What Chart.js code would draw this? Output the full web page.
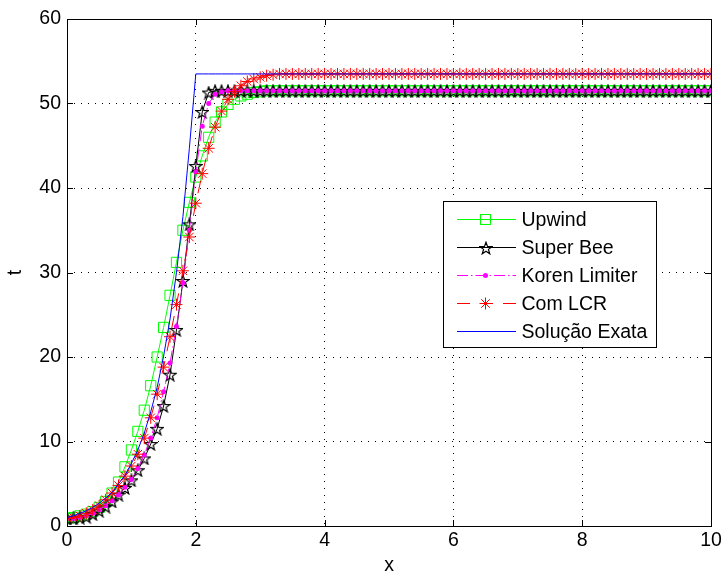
<!DOCTYPE html>
<html>
<head>
<meta charset="utf-8">
<script src="https://cdn.jsdelivr.net/npm/chart.js@4.4.1/dist/chart.umd.min.js"></script>
<style>
  html, body { margin: 0; padding: 0; background: #fff; }
  canvas { display: block; }
</style>
</head>
<body>
<canvas id="myChart" width="725" height="577"></canvas>
<script>
// x positions of the samples (step 0.1)
var xs = [
  0, 0.1, 0.2, 0.3, 0.4, 0.5, 0.6, 0.7, 0.8, 0.9,
  1, 1.1, 1.2, 1.3, 1.4, 1.5, 1.6, 1.7, 1.8, 1.9,
  2, 2.1, 2.2, 2.3, 2.4, 2.5, 2.6, 2.7, 2.8, 2.9,
  3, 3.1, 3.2, 3.3, 3.4, 3.5, 3.6, 3.7, 3.8, 3.9,
  4, 4.1, 4.2, 4.3, 4.4, 4.5, 4.6, 4.7, 4.8, 4.9,
  5, 5.1, 5.2, 5.3, 5.4, 5.5, 5.6, 5.7, 5.8, 5.9,
  6, 6.1, 6.2, 6.3, 6.4, 6.5, 6.6, 6.7, 6.8, 6.9,
  7, 7.1, 7.2, 7.3, 7.4, 7.5, 7.6, 7.7, 7.8, 7.9,
  8, 8.1, 8.2, 8.3, 8.4, 8.5, 8.6, 8.7, 8.8, 8.9,
  9, 9.1, 9.2, 9.3, 9.4, 9.5, 9.6, 9.7, 9.8, 9.9,
  10
];

var upwind = [
  0.9, 1.0, 1.2, 1.4, 1.7, 2.2, 2.9, 3.9, 5.2, 7.0,
  9.0, 11.2, 13.7, 16.6, 20.0, 23.5, 27.3, 31.2, 35.0, 38.3,
  41.3, 43.8, 46.0, 47.8, 49.0, 49.9, 50.5, 50.9, 51.1, 51.3,
  51.4, 51.5, 51.5, 51.5, 51.5, 51.5, 51.5, 51.5, 51.5, 51.5,
  51.5, 51.5, 51.5, 51.5, 51.5, 51.5, 51.5, 51.5, 51.5, 51.5,
  51.5, 51.5, 51.5, 51.5, 51.5, 51.5, 51.5, 51.5, 51.5, 51.5,
  51.5, 51.5, 51.5, 51.5, 51.5, 51.5, 51.5, 51.5, 51.5, 51.5,
  51.5, 51.5, 51.5, 51.5, 51.5, 51.5, 51.5, 51.5, 51.5, 51.5,
  51.5, 51.5, 51.5, 51.5, 51.5, 51.5, 51.5, 51.5, 51.5, 51.5,
  51.5, 51.5, 51.5, 51.5, 51.5, 51.5, 51.5, 51.5, 51.5, 51.5,
  51.5
];

var superBee = [
  0.9, 0.9, 1.0, 1.1, 1.4, 1.8, 2.3, 2.9, 3.7, 4.5,
  5.4, 6.6, 8.0, 9.7, 11.5, 14.2, 17.9, 23.2, 29.0, 35.7,
  42.6, 49.0, 51.3, 51.5, 51.5, 51.5, 51.5, 51.5, 51.5, 51.5,
  51.5, 51.5, 51.5, 51.5, 51.5, 51.5, 51.5, 51.5, 51.5, 51.5,
  51.5, 51.5, 51.5, 51.5, 51.5, 51.5, 51.5, 51.5, 51.5, 51.5,
  51.5, 51.5, 51.5, 51.5, 51.5, 51.5, 51.5, 51.5, 51.5, 51.5,
  51.5, 51.5, 51.5, 51.5, 51.5, 51.5, 51.5, 51.5, 51.5, 51.5,
  51.5, 51.5, 51.5, 51.5, 51.5, 51.5, 51.5, 51.5, 51.5, 51.5,
  51.5, 51.5, 51.5, 51.5, 51.5, 51.5, 51.5, 51.5, 51.5, 51.5,
  51.5, 51.5, 51.5, 51.5, 51.5, 51.5, 51.5, 51.5, 51.5, 51.5,
  51.5
];

var koren = [
  0.9, 0.9, 1.0, 1.2, 1.5, 1.9, 2.4, 3.0, 3.7, 4.6,
  5.5, 6.8, 8.4, 10.4, 12.8, 15.9, 19.3, 23.6, 28.8, 35.0,
  41.9, 47.3, 50.0, 51.1, 51.4, 51.5, 51.5, 51.5, 51.5, 51.5,
  51.5, 51.5, 51.5, 51.5, 51.5, 51.5, 51.5, 51.5, 51.5, 51.5,
  51.5, 51.5, 51.5, 51.5, 51.5, 51.5, 51.5, 51.5, 51.5, 51.5,
  51.5, 51.5, 51.5, 51.5, 51.5, 51.5, 51.5, 51.5, 51.5, 51.5,
  51.5, 51.5, 51.5, 51.5, 51.5, 51.5, 51.5, 51.5, 51.5, 51.5,
  51.5, 51.5, 51.5, 51.5, 51.5, 51.5, 51.5, 51.5, 51.5, 51.5,
  51.5, 51.5, 51.5, 51.5, 51.5, 51.5, 51.5, 51.5, 51.5, 51.5,
  51.5, 51.5, 51.5, 51.5, 51.5, 51.5, 51.5, 51.5, 51.5, 51.5,
  51.5
];

var comLCR = [
  0.9, 1.0, 1.2, 1.5, 1.9, 2.4, 3.1, 3.9, 4.8, 5.9,
  7.1, 8.5, 10.4, 12.8, 15.6, 18.8, 22.4, 26.2, 30.2, 34.2,
  38.2, 41.7, 44.7, 47.2, 49.1, 50.5, 51.4, 52.1, 52.6, 52.9,
  53.1, 53.3, 53.4, 53.5, 53.5, 53.5, 53.5, 53.5, 53.5, 53.5,
  53.5, 53.5, 53.5, 53.5, 53.5, 53.5, 53.5, 53.5, 53.5, 53.5,
  53.5, 53.5, 53.5, 53.5, 53.5, 53.5, 53.5, 53.5, 53.5, 53.5,
  53.5, 53.5, 53.5, 53.5, 53.5, 53.5, 53.5, 53.5, 53.5, 53.5,
  53.5, 53.5, 53.5, 53.5, 53.5, 53.5, 53.5, 53.5, 53.5, 53.5,
  53.5, 53.5, 53.5, 53.5, 53.5, 53.5, 53.5, 53.5, 53.5, 53.5,
  53.5, 53.5, 53.5, 53.5, 53.5, 53.5, 53.5, 53.5, 53.5, 53.5,
  53.5
];

var exata = [
  1.0, 1.2, 1.5, 1.8, 2.2, 2.7, 3.3, 4.0, 5.0, 6.0,
  7.4, 9.0, 11.0, 13.5, 16.4, 20.1, 24.5, 30.0, 36.6, 44.7,
  53.5, 53.5, 53.5, 53.5, 53.5, 53.5, 53.5, 53.5, 53.5, 53.5,
  53.5, 53.5, 53.5, 53.5, 53.5, 53.5, 53.5, 53.5, 53.5, 53.5,
  53.5, 53.5, 53.5, 53.5, 53.5, 53.5, 53.5, 53.5, 53.5, 53.5,
  53.5, 53.5, 53.5, 53.5, 53.5, 53.5, 53.5, 53.5, 53.5, 53.5,
  53.5, 53.5, 53.5, 53.5, 53.5, 53.5, 53.5, 53.5, 53.5, 53.5,
  53.5, 53.5, 53.5, 53.5, 53.5, 53.5, 53.5, 53.5, 53.5, 53.5,
  53.5, 53.5, 53.5, 53.5, 53.5, 53.5, 53.5, 53.5, 53.5, 53.5,
  53.5, 53.5, 53.5, 53.5, 53.5, 53.5, 53.5, 53.5, 53.5, 53.5,
  53.5
];

var seriesNames = ['Upwind', 'Super Bee', 'Koren Limiter', 'Com LCR', 'Solução Exata'];
var seriesColors = ['#00ff00', '#000000', '#ff00ff', '#ff0000', '#0000ff'];
var seriesDash = [[], [], [11, 3, 1.5, 3], [13, 10], []];
var xTicks = [0, 2, 4, 6, 8, 10];
var yTicks = [0, 10, 20, 30, 40, 50, 60];

var FONT = 'Liberation Sans, Arial, Helvetica, sans-serif';
var FSIZE = 19.5;

function toPoints(ys) {
    return ys.map(function (y, i) { return { x: xs[i], y: y }; });
}

// hollow five pointed star marker
function makePentagram(size, color) {
    var c = document.createElement('canvas');
    c.width = size;
    c.height = size;
    var g = c.getContext('2d');
    var cx = size / 2, cy = size / 2 + 0.6;
    var R = size / 2 - 0.6, r = R * 0.4;
    g.beginPath();
    for (var i = 0; i < 10; i++) {
        var a = -Math.PI / 2 + i * Math.PI / 5;
        var rad = (i % 2 === 0) ? R : r;
        g.lineTo(cx + rad * Math.cos(a), cy + rad * Math.sin(a));
    }
    g.closePath();
    g.strokeStyle = color;
    g.lineWidth = 1.2;
    g.stroke();
    return c;
}

var starImg = makePentagram(14, '#000');

var datasets = [
    {
        label: seriesNames[0], data: toPoints(upwind),
        borderColor: seriesColors[0], borderWidth: 1,
        pointStyle: 'rect', pointRadius: 7.2,
        pointBorderColor: seriesColors[0], pointBackgroundColor: 'rgba(0,0,0,0)', pointBorderWidth: 1,
        order: 5
    },
    {
        label: seriesNames[1], data: toPoints(superBee),
        borderColor: seriesColors[1], borderWidth: 1,
        pointStyle: starImg, pointRadius: 7,
        order: 4
    },
    {
        label: seriesNames[2], data: toPoints(koren),
        borderColor: seriesColors[2], borderWidth: 1, borderDash: seriesDash[2],
        pointStyle: 'circle', pointRadius: 2.5,
        pointBorderColor: seriesColors[2], pointBackgroundColor: seriesColors[2], pointBorderWidth: 0,
        order: 3
    },
    {
        label: seriesNames[3], data: toPoints(comLCR),
        borderColor: seriesColors[3], borderWidth: 1, borderDash: seriesDash[3],
        pointStyle: 'star', pointRadius: 6,
        pointBorderColor: seriesColors[3], pointBackgroundColor: seriesColors[3], pointBorderWidth: 1,
        order: 2
    },
    {
        label: seriesNames[4], data: toPoints(exata),
        borderColor: seriesColors[4], borderWidth: 1,
        pointRadius: 0,
        order: 1
    }
];

function drawMarker(ctx, i, x, y) {
    ctx.save();
    ctx.setLineDash([]);
    ctx.lineWidth = 1;
    ctx.strokeStyle = seriesColors[i];
    ctx.fillStyle = seriesColors[i];
    if (i === 0) {
        ctx.strokeRect(x - 5, y - 5, 10, 10);
    } else if (i === 1) {
        ctx.drawImage(starImg, Math.round(x - starImg.width / 2), Math.round(y - starImg.height / 2));
    } else if (i === 2) {
        ctx.beginPath();
        ctx.arc(x, y, 2.5, 0, Math.PI * 2);
        ctx.fill();
    } else if (i === 3) {
        var r = 6;
        ctx.beginPath();
        for (var k = 0; k < 4; k++) {
            var a = k * Math.PI / 4;
            ctx.moveTo(x - r * Math.cos(a), y - r * Math.sin(a));
            ctx.lineTo(x + r * Math.cos(a), y + r * Math.sin(a));
        }
        ctx.stroke();
    }
    ctx.restore();
}

// legend sample line, drawn as little filled runs so the colour stays exact
function drawSampleLine(ctx, i, x0, x1, y) {
    var dash = seriesDash[i];
    ctx.fillStyle = seriesColors[i];
    if (!dash.length) {
        ctx.fillRect(x0, y, x1 - x0, 1);
        return;
    }
    var x = x0, k = 0;
    while (x < x1) {
        var len = dash[k % dash.length];
        if (k % 2 === 0) ctx.fillRect(x, y, Math.min(len, x1 - x), 1);
        x += len;
        k++;
    }
}

// box round the plot, inward ticks and the legend
var framePlugin = {
    id: 'frame',
    afterDraw: function (chart) {
        var ctx = chart.ctx;
        var a = chart.chartArea;
        var sx = chart.scales.x, sy = chart.scales.y;
        ctx.save();
        ctx.strokeStyle = '#000';
        ctx.lineWidth = 1;
        ctx.setLineDash([]);
        ctx.strokeRect(Math.round(a.left) + 0.5, Math.round(a.top) + 0.5,
            Math.round(a.right - a.left), Math.round(a.bottom - a.top));

        ctx.beginPath();
        xTicks.forEach(function (v) {
            var px = Math.round(sx.getPixelForValue(v)) + 0.5;
            ctx.moveTo(px, a.bottom); ctx.lineTo(px, a.bottom - 6);
            ctx.moveTo(px, a.top); ctx.lineTo(px, a.top + 6);
        });
        yTicks.forEach(function (v) {
            var py = Math.round(sy.getPixelForValue(v)) + 0.5;
            ctx.moveTo(a.left, py); ctx.lineTo(a.left + 6, py);
            ctx.moveTo(a.right, py); ctx.lineTo(a.right - 6, py);
        });
        ctx.stroke();

        // legend
        var lx = Math.round(a.left + 376) + 0.5, ly = Math.round(a.top + 182) + 0.5;
        var lw = 213, lh = 146;
        ctx.fillStyle = '#fff';
        ctx.fillRect(lx, ly, lw, lh);
        ctx.strokeStyle = '#000';
        ctx.strokeRect(lx, ly, lw, lh);
        for (var i = 0; i < seriesNames.length; i++) {
            var ry = Math.round(ly + 17 + i * 28);
            drawSampleLine(ctx, i, Math.round(lx + 13), Math.round(lx + 72), ry);
            drawMarker(ctx, i, lx + 42, ry + 0.5);
            ctx.fillStyle = '#000';
            ctx.font = FSIZE + 'px ' + FONT;
            ctx.textBaseline = 'middle';
            ctx.textAlign = 'left';
            ctx.fillText(seriesNames[i], lx + 78, ry + 1.5);
        }
        ctx.restore();
    }
};

var ctx = document.getElementById('myChart');

var myChart = new Chart(ctx, {
    type: 'line',
    data: { datasets: datasets },
    options: {
        responsive: false,
        animation: false,
        devicePixelRatio: 1,
        layout: { padding: { left: 0, top: 19, right: 14, bottom: 0 } },
        plugins: {
            legend: { display: false },
            tooltip: { enabled: false }
        },
        elements: { line: { tension: 0 } },
        scales: {
            x: {
                type: 'linear', min: 0, max: 10,
                afterFit: function (scale) { scale.height = 51; },
                afterBuildTicks: function (scale) {
                    scale.ticks = xTicks.map(function (v) { return { value: v }; });
                },
                ticks: { color: '#000', font: { family: FONT, size: FSIZE }, padding: 3, maxRotation: 0 },
                grid: { color: '#000', lineWidth: 1, drawTicks: false },
                border: { display: false, dash: [1, 6] },
                title: { display: true, text: 'x', color: '#000', font: { family: FONT, size: FSIZE }, padding: 0 }
            },
            y: {
                type: 'linear', min: 0, max: 60,
                afterFit: function (scale) { scale.width = 67; },
                afterBuildTicks: function (scale) {
                    scale.ticks = yTicks.map(function (v) { return { value: v }; });
                },
                ticks: { color: '#000', font: { family: FONT, size: FSIZE }, padding: 6 },
                grid: { color: '#000', lineWidth: 1, drawTicks: false },
                border: { display: false, dash: [1, 6] },
                title: { display: true, text: 't', color: '#000', font: { family: FONT, size: FSIZE }, padding: { top: 4, bottom: 0 } }
            }
        }
    },
    plugins: [framePlugin]
});
</script>
</body>
</html>
